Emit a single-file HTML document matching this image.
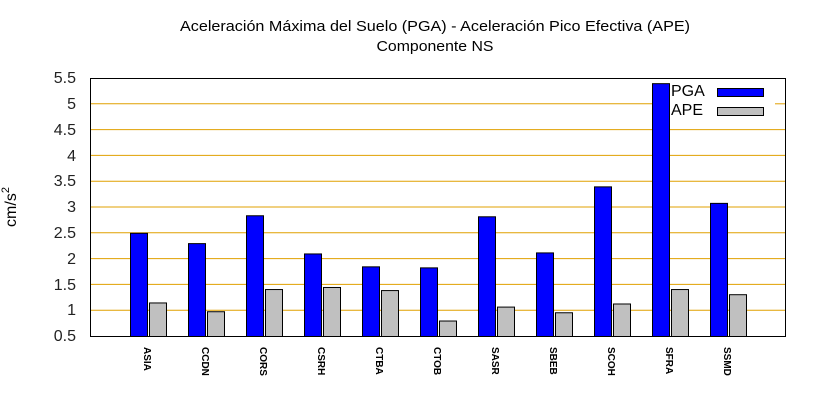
<!DOCTYPE html>
<html><head><meta charset="utf-8"><style>body{margin:0;background:#fff}svg{display:block}</style></head>
<body>
<svg width="820" height="400" xmlns="http://www.w3.org/2000/svg" font-family="'Liberation Sans', 'DejaVu Sans', sans-serif">
<rect width="820" height="400" fill="#fff"/>
<text x="435" y="31" font-size="15" text-anchor="middle" textLength="510" lengthAdjust="spacingAndGlyphs">Aceleración Máxima del Suelo (PGA) -  Aceleración Pico Efectiva (APE)</text>
<text x="435" y="51" font-size="15" text-anchor="middle" textLength="117" lengthAdjust="spacingAndGlyphs">Componente NS</text>
<g stroke="#e0a000" stroke-width="1">
<line x1="90" x2="786" y1="310.2" y2="310.2"/>
<line x1="90" x2="786" y1="284.4" y2="284.4"/>
<line x1="90" x2="786" y1="258.6" y2="258.6"/>
<line x1="90" x2="786" y1="232.8" y2="232.8"/>
<line x1="90" x2="786" y1="207" y2="207"/>
<line x1="90" x2="786" y1="181.2" y2="181.2"/>
<line x1="90" x2="786" y1="155.4" y2="155.4"/>
<line x1="90" x2="786" y1="129.6" y2="129.6"/>
<line x1="90" x2="668" y1="103.8" y2="103.8"/>
<line x1="775" x2="786" y1="103.8" y2="103.8"/>
</g>
<g font-size="16" text-anchor="end" fill="#222">
<text x="76" y="341">0.5</text><text x="76" y="315">1</text><text x="76" y="290">1.5</text><text x="76" y="264">2</text><text x="76" y="238">2.5</text><text x="76" y="212">3</text><text x="76" y="186">3.5</text><text x="76" y="161">4</text><text x="76" y="135">4.5</text><text x="76" y="109">5</text><text x="76" y="83">5.5</text>
</g>
<text transform="translate(16,207) rotate(-90)" font-size="16" text-anchor="middle">cm/s<tspan font-size="11" dy="-7">2</tspan></text>
<g id="bars" stroke="#000" stroke-width="1"></g>
<g id="labels" font-size="10" font-weight="bold"></g>
<rect x="90.5" y="78.5" width="695" height="258" fill="none" stroke="#000"/>
<text x="671" y="96" font-size="16">PGA</text>
<text x="671" y="115" font-size="16">APE</text>
<rect x="717.5" y="88.5" width="46" height="8" fill="#0000ff" stroke="#000"/>
<rect x="717.5" y="107.5" width="46" height="8" fill="#c0c0c0" stroke="#000"/>
<script>
var names=["ASIA","CCDN","CORS","CSRH","CTBA","CTOB","SASR","SBEB","SCOH","SFRA","SSMD"];
var pga=[2.5,2.3,2.84,2.1,1.85,1.83,2.82,2.12,3.4,5.4,3.08];
var ape=[1.15,0.98,1.41,1.45,1.39,0.8,1.07,0.96,1.13,1.41,1.31];
function y(v){return 78+(5.5-v)*51.6;}
var ns="http://www.w3.org/2000/svg",b=document.getElementById("bars"),l=document.getElementById("labels");
for(var i=0;i<11;i++){var x=130+58*i;
[[pga[i],x,"#0000ff"],[ape[i],x+19,"#c0c0c0"]].forEach(function(d){var r=document.createElementNS(ns,"rect");
r.setAttribute("x",d[1]+0.5);r.setAttribute("y",y(d[0])+0.5);r.setAttribute("width",17);r.setAttribute("height",336-y(d[0]));r.setAttribute("fill",d[2]);b.appendChild(r);});
var t=document.createElementNS(ns,"text");t.setAttribute("transform","translate("+(x+14)+",347) rotate(90)");t.textContent=names[i];l.appendChild(t);}
</script>
</svg>
</body></html>
